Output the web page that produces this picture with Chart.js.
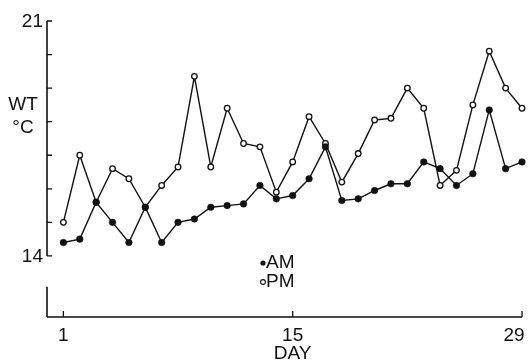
<!DOCTYPE html>
<html>
<head>
<meta charset="utf-8">
<script src="https://cdn.jsdelivr.net/npm/chart.js@4.4.0/dist/chart.umd.min.js"></script>
<style>
html, body { margin: 0; padding: 0; background: #fff; }
#wrap { width: 528px; height: 360px; }
</style>
</head>
<body>
<div id="wrap"><canvas id="wt-chart"></canvas></div>
<script>
// Chart data
var days = [1, 2, 3, 4, 5, 6, 7, 8, 9, 10, 11, 12, 13, 14, 15,
            16, 17, 18, 19, 20, 21, 22, 23, 24, 25, 26, 27, 28, 29];
var amTemps = [14.4, 14.5, 15.6, 15.0, 14.4, 15.45, 14.4, 15.0, 15.1, 15.45,
               15.5, 15.55, 16.1, 15.7, 15.8, 16.3, 17.25, 15.65, 15.7, 15.95,
               16.15, 16.15, 16.8, 16.6, 16.1, 16.45, 18.35, 16.6, 16.8];
var pmTemps = [15.0, 17.0, 15.6, 16.6, 16.3, 15.45, 16.1, 16.65, 19.35, 16.65,
               18.4, 17.35, 17.25, 15.9, 16.8, 18.15, 17.35, 16.2, 17.05, 18.05,
               18.1, 19.0, 18.4, 16.1, 16.55, 18.5, 20.1, 19.0, 18.4];
var yTickLabels = [14, 21];
var xTickLabels = [1, 15, 29];
var seriesNames = ["AM", "PM"];

var ink = "#111";
var font = "'Liberation Sans', Arial, sans-serif";

function pairs(vals) {
    return vals.map(function (v, i) { return { x: days[i], y: v }; });
}

// broken axes, ticks, titles and legend
var axesPlugin = {
    id: "axesPlugin",
    afterDraw: function (chart) {
        var c = chart.ctx, a = chart.chartArea;
        var xs = chart.scales.x, ys = chart.scales.y;
        var left = a.left, bottom = a.bottom;
        c.save();
        c.strokeStyle = ink;
        c.fillStyle = ink;
        c.lineWidth = 1.6;

        // y axis, upper part 14..21
        c.beginPath();
        c.moveTo(left, ys.getPixelForValue(21));
        c.lineTo(left, ys.getPixelForValue(14));
        // lower stub after the break
        c.moveTo(left, ys.getPixelForValue(13.08));
        c.lineTo(left, bottom);
        // x axis
        c.moveTo(left, bottom);
        c.lineTo(a.right, bottom);
        c.stroke();

        // y minor ticks, one per degree
        c.lineWidth = 1.3;
        c.beginPath();
        for (var v = 14; v <= 21; v++) {
            var py = ys.getPixelForValue(v);
            c.moveTo(left, py);
            c.lineTo(left + 5, py);
        }
        xTickLabels.forEach(function (d) {
            var px = xs.getPixelForValue(d);
            c.moveTo(px, bottom);
            c.lineTo(px, bottom - 6);
        });
        c.stroke();

        c.font = "19px " + font;
        c.textAlign = "right";
        c.textBaseline = "middle";
        yTickLabels.forEach(function (t) {
            c.fillText(String(t), left - 4, ys.getPixelForValue(t) + 1);
        });

        c.textAlign = "center";
        c.textBaseline = "top";
        xTickLabels.forEach(function (d, i) {
            var px = xs.getPixelForValue(d);
            if (i === xTickLabels.length - 1) px -= 8;
            c.fillText(String(d), px, bottom + 9);
        });
        c.fillText("DAY", xs.getPixelForValue(15), bottom + 27);

        c.textBaseline = "middle";
        c.fillText("WT", 23, 105);
        c.fillText("\u00B0C", 23, 128);

        // legend
        c.textAlign = "left";
        c.font = "19px " + font;
        c.beginPath();
        c.arc(263, 263, 2.6, 0, Math.PI * 2);
        c.fill();
        c.fillText(seriesNames[0], 266, 263);
        c.lineWidth = 1.1;
        c.beginPath();
        c.arc(263, 282, 2.4, 0, Math.PI * 2);
        c.stroke();
        c.fillText(seriesNames[1], 266, 282);
        c.restore();
    }
};

var config = {
    type: "line",
    data: {
        datasets: [{
            label: seriesNames[0],
            data: pairs(amTemps),
            borderColor: ink,
            borderWidth: 1.4,
            backgroundColor: ink,
            pointBackgroundColor: ink,
            pointBorderColor: ink,
            pointRadius: 3.3,
            pointBorderWidth: 0.5,
            tension: 0,
            clip: false
        }, {
            label: seriesNames[1],
            data: pairs(pmTemps),
            borderColor: ink,
            borderWidth: 1.4,
            backgroundColor: "#fff",
            pointBackgroundColor: "#fff",
            pointBorderColor: ink,
            pointRadius: 2.8,
            pointBorderWidth: 1.3,
            tension: 0,
            clip: false
        }]
    },
    options: {
        responsive: true,
        maintainAspectRatio: false,
        animation: false,
        layout: { padding: { left: 47, right: 6, top: 21, bottom: 43 } },
        plugins: { legend: { display: false }, tooltip: { enabled: false } },
        scales: {
            x: { type: "linear", min: 0, max: 29, display: false },
            y: { type: "linear", min: 12.18, max: 21, display: false }
        }
    },
    plugins: [axesPlugin]
};

var wtChart = new Chart(document.getElementById("wt-chart"), config);
</script>
</body>
</html>
